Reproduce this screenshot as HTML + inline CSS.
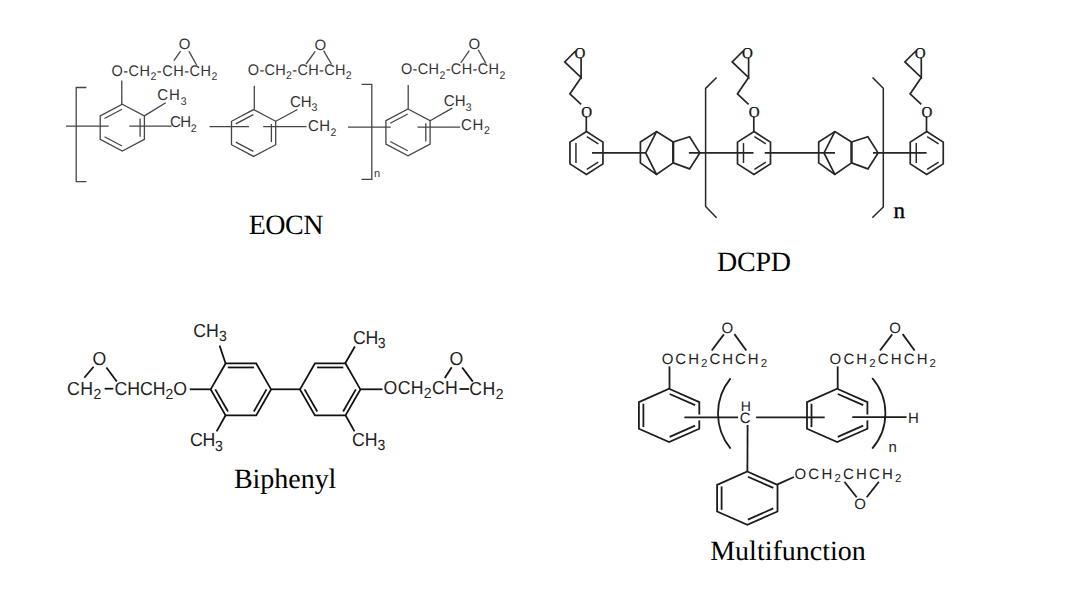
<!DOCTYPE html>
<html><head><meta charset="utf-8"><style>
html,body{margin:0;padding:0;background:#fff;}
svg{display:block;}
line,path{fill:none;stroke-linecap:butt;stroke-linejoin:miter;}
.eo line,.eo path{stroke:#454545;stroke-width:1.3;}
.dc line,.dc path{stroke:#262626;stroke-width:1.7;}
.dc line.thick{stroke-width:2.2;}
.dc line.inner{stroke-width:1.45;}
.dc path.br{stroke-width:1.5;}
.bp line,.bp path{stroke:#111;stroke-width:1.75;}
.mf line,.mf path{stroke:#1c1c1c;stroke-width:1.8;}
.mf line.gap{stroke:#fff;stroke-width:3;}
text{font-family:"Liberation Sans",sans-serif;fill:#222;text-rendering:geometricPrecision;}
.eot{font-size:14.5px;fill:#333;}
.eoO{font-size:15px;fill:#333;}
.eot2{font-size:15px;fill:#333;}
.sub{font-size:10.5px;}
.eon{font-size:11px;fill:#333;}
.cap{font-family:"Liberation Serif",serif;font-size:28px;fill:#000;}
.dco{font-family:"Liberation Serif",serif;font-size:15px;fill:#111;stroke:#111;stroke-width:0.3px;}
.dcn{font-family:"Liberation Serif",serif;font-size:23px;fill:#000;stroke:#000;stroke-width:0.35px;}
.bpt{font-size:17.7px;fill:#222;}
.bsub{font-size:14px;}
.mft{font-size:15px;letter-spacing:2px;fill:#222;}
.msub{font-size:11.5px;}
.mfh{font-size:14px;fill:#222;}
.mfc{font-size:15px;fill:#222;}
.mfO{font-size:15px;fill:#222;}
</style></head>
<body><svg width="1080" height="604" viewBox="0 0 1080 604">
<rect width="1080" height="604" fill="#fff"/>
<g class="eo">
<path d="M122.30 104.20 L144.40 115.90 L144.40 139.30 L122.30 151.00 L100.20 139.30 L100.20 115.90 Z"/>
<line x1="104.51" y1="118.48" x2="122.01" y2="109.22" class="inner"/>
<line x1="140.10" y1="118.50" x2="140.10" y2="136.70" class="inner"/>
<line x1="122.01" y1="145.98" x2="104.51" y2="136.72" class="inner"/>
<path d="M253.60 109.60 L275.70 121.30 L275.70 144.70 L253.60 156.40 L231.50 144.70 L231.50 121.30 Z"/>
<line x1="235.81" y1="123.88" x2="253.31" y2="114.62" class="inner"/>
<line x1="271.40" y1="123.90" x2="271.40" y2="142.10" class="inner"/>
<line x1="253.31" y1="151.38" x2="235.81" y2="142.12" class="inner"/>
<path d="M408.00 108.95 L430.10 120.65 L430.10 144.05 L408.00 155.75 L385.90 144.05 L385.90 120.65 Z"/>
<line x1="390.21" y1="123.23" x2="407.71" y2="113.97" class="inner"/>
<line x1="425.80" y1="123.25" x2="425.80" y2="141.45" class="inner"/>
<line x1="407.71" y1="150.73" x2="390.21" y2="141.47" class="inner"/>
<path d="M86.4 87.5 H76.2 V181.7 H86.4"/>
<path d="M361.5 84.3 H371.8 V179.3 H361.5"/>
<line x1="66.00" y1="126.20" x2="108.70" y2="126.20"/>
<line x1="129.30" y1="126.20" x2="171.60" y2="126.20"/>
<line x1="209.60" y1="126.60" x2="249.10" y2="126.60"/>
<line x1="263.20" y1="126.60" x2="306.50" y2="126.60"/>
<line x1="348.00" y1="127.20" x2="390.70" y2="127.20"/>
<line x1="417.50" y1="127.20" x2="460.20" y2="127.20"/>
<line x1="121.80" y1="104.20" x2="121.80" y2="80.50"/>
<line x1="254.30" y1="109.60" x2="254.30" y2="85.70"/>
<line x1="408.20" y1="108.80" x2="408.20" y2="84.90"/>
<line x1="144.40" y1="115.90" x2="165.70" y2="102.80"/>
<line x1="275.70" y1="121.30" x2="297.50" y2="109.50"/>
<line x1="430.10" y1="120.70" x2="452.30" y2="108.10"/>
<line x1="173.90" y1="60.60" x2="180.60" y2="51.10"/>
<line x1="188.90" y1="51.10" x2="196.70" y2="65.30"/>
<line x1="306.10" y1="64.00" x2="315.20" y2="51.40"/>
<line x1="323.60" y1="50.70" x2="331.40" y2="64.00"/>
<line x1="460.70" y1="63.00" x2="469.30" y2="50.70"/>
<line x1="478.20" y1="49.70" x2="485.90" y2="63.40"/>
</g>
<text transform="translate(157.30 99.80) scale(1 1.05)" class="eot2" textLength="29.20" lengthAdjust="spacing">CH<tspan class="sub" dy="4.5">3</tspan></text>
<text transform="translate(290.10 106.50) scale(1 1.05)" class="eot2" textLength="27.20" lengthAdjust="spacing">CH<tspan class="sub" dy="4.5">3</tspan></text>
<text transform="translate(443.80 105.80) scale(1 1.05)" class="eot2" textLength="27.80" lengthAdjust="spacing">CH<tspan class="sub" dy="4.5">3</tspan></text>
<text transform="translate(170.10 127.10) scale(1 1.05)" class="eot2" textLength="26.40" lengthAdjust="spacing">CH<tspan class="sub" dy="4.5">2</tspan></text>
<text transform="translate(308.10 131.10) scale(1 1.05)" class="eot2" textLength="28.20" lengthAdjust="spacing">CH<tspan class="sub" dy="4.5">2</tspan></text>
<text transform="translate(461.10 129.60) scale(1 1.05)" class="eot2" textLength="28.80" lengthAdjust="spacing">CH<tspan class="sub" dy="4.5">2</tspan></text>
<text transform="translate(111.40 75.60) scale(1 1.06)" class="eot" textLength="106.00" lengthAdjust="spacing">O-CH<tspan class="sub" dy="4.5">2</tspan><tspan dy="-4.5">-CH-CH</tspan><tspan class="sub" dy="4.5">2</tspan></text>
<text transform="translate(247.80 74.70) scale(1 1.06)" class="eot" textLength="103.80" lengthAdjust="spacing">O-CH<tspan class="sub" dy="4.5">2</tspan><tspan dy="-4.5">-CH-CH</tspan><tspan class="sub" dy="4.5">2</tspan></text>
<text transform="translate(400.90 73.80) scale(1 1.06)" class="eot" textLength="104.40" lengthAdjust="spacing">O-CH<tspan class="sub" dy="4.5">2</tspan><tspan dy="-4.5">-CH-CH</tspan><tspan class="sub" dy="4.5">2</tspan></text>
<text x="178.80" y="49.40" class="eoO">O</text>
<text x="314.60" y="49.60" class="eoO">O</text>
<text x="468.50" y="49.10" class="eoO">O</text>
<text x="374.10" y="177.40" class="eon">n</text>
<text x="248.70" y="234.10" class="cap" textLength="74.70" lengthAdjust="spacing">EOCN</text>
<g class="dc">
<path d="M586.45 131.55 L602.95 142.10 L602.95 163.90 L586.45 174.45 L569.95 163.90 L569.95 142.10 Z"/>
<line x1="575.95" y1="162.90" x2="575.95" y2="143.10" class="inner"/>
<line x1="586.82" y1="136.54" x2="598.27" y2="143.85" class="inner"/>
<line x1="598.27" y1="162.15" x2="586.82" y2="169.46" class="inner"/>
<path d="M754.00 131.55 L770.50 142.10 L770.50 163.90 L754.00 174.45 L737.50 163.90 L737.50 142.10 Z"/>
<line x1="743.50" y1="162.90" x2="743.50" y2="143.10" class="inner"/>
<line x1="754.37" y1="136.54" x2="765.82" y2="143.85" class="inner"/>
<line x1="765.82" y1="162.15" x2="754.37" y2="169.46" class="inner"/>
<path d="M926.75 131.55 L943.25 142.10 L943.25 163.90 L926.75 174.45 L910.25 163.90 L910.25 142.10 Z"/>
<line x1="916.25" y1="162.90" x2="916.25" y2="143.10" class="inner"/>
<line x1="927.12" y1="136.54" x2="938.57" y2="143.85" class="inner"/>
<line x1="938.57" y1="162.15" x2="927.12" y2="169.46" class="inner"/>
<path d="M656.50 131.60 L640.40 142.00 L640.40 162.90 L656.50 174.40 L673.20 162.90 L673.20 142.00 Z"/>
<path d="M656.50 131.60 L645.70 152.90 L656.50 174.40"/>
<line x1="673.20" y1="142.30" x2="673.20" y2="162.60" class="thick"/>
<path d="M673.20 142.00 L689.60 136.80 L699.80 152.90 L689.60 168.90 L673.20 162.90"/>
<path d="M834.80 131.60 L818.70 142.00 L818.70 162.90 L834.80 174.40 L851.50 162.90 L851.50 142.00 Z"/>
<path d="M834.80 131.60 L824.00 152.90 L834.80 174.40"/>
<line x1="851.50" y1="142.30" x2="851.50" y2="162.60" class="thick"/>
<path d="M851.50 142.00 L867.90 136.80 L878.10 152.90 L867.90 168.90 L851.50 162.90"/>
<line x1="592.00" y1="152.90" x2="645.70" y2="152.90"/>
<line x1="688.90" y1="152.90" x2="753.50" y2="152.90"/>
<line x1="764.70" y1="152.90" x2="835.00" y2="152.90"/>
<line x1="873.00" y1="152.90" x2="926.60" y2="152.90"/>
<path d="M716.6 77.5 L705.6 88.4 V206.5 L716.6 217.7" class="br"/>
<path d="M872.5 77.5 L883.3 88.2 V207 L872.3 217.7" class="br"/>
<path d="M575.60 51.00 L564.70 61.90 L581.10 77.50 L581.10 57.60"/>
<path d="M581.10 77.50 L569.90 93.90 L581.10 104.30"/>
<line x1="586.30" y1="116.50" x2="586.30" y2="131.60"/>
<path d="M743.10 51.00 L732.20 61.90 L748.60 77.50 L748.60 57.60"/>
<path d="M748.60 77.50 L737.40 93.90 L748.60 104.30"/>
<line x1="753.80" y1="116.50" x2="753.80" y2="131.60"/>
<path d="M915.80 51.00 L904.90 61.90 L921.30 77.50 L921.30 57.60"/>
<path d="M921.30 77.50 L910.10 93.90 L921.30 104.30"/>
<line x1="926.50" y1="116.50" x2="926.50" y2="131.60"/>
</g>
<text x="574.60" y="58.40" class="dco">O</text>
<text x="581.20" y="116.90" class="dco">O</text>
<text x="742.10" y="58.40" class="dco">O</text>
<text x="748.70" y="116.90" class="dco">O</text>
<text x="914.80" y="58.40" class="dco">O</text>
<text x="921.40" y="116.90" class="dco">O</text>
<text x="893.50" y="217.50" class="dcn">n</text>
<text x="716.90" y="270.80" class="cap" textLength="74.20" lengthAdjust="spacing">DCPD</text>
<g class="bp">
<path d="M210.70 389.40 L225.60 363.45 L256.20 363.45 L271.10 389.40 L256.20 415.35 L225.60 415.35 Z"/>
<line x1="227.80" y1="367.45" x2="254.00" y2="367.45" class="inner"/>
<line x1="266.54" y1="389.32" x2="253.83" y2="411.45" class="inner"/>
<line x1="227.97" y1="411.45" x2="215.26" y2="389.32" class="inner"/>
<path d="M300.00 389.40 L314.90 363.45 L345.50 363.45 L360.40 389.40 L345.50 415.35 L314.90 415.35 Z"/>
<line x1="317.10" y1="367.45" x2="343.30" y2="367.45" class="inner"/>
<line x1="355.84" y1="389.32" x2="343.13" y2="411.45" class="inner"/>
<line x1="317.27" y1="411.45" x2="304.56" y2="389.32" class="inner"/>
<line x1="271.10" y1="389.30" x2="300.00" y2="389.30"/>
<line x1="189.80" y1="389.30" x2="210.70" y2="389.30"/>
<line x1="360.40" y1="389.30" x2="382.50" y2="389.30"/>
<line x1="225.60" y1="363.50" x2="219.60" y2="345.60"/>
<line x1="225.60" y1="415.30" x2="216.60" y2="431.40"/>
<line x1="345.10" y1="363.50" x2="354.90" y2="346.50"/>
<line x1="345.50" y1="415.30" x2="354.50" y2="431.40"/>
<line x1="104.60" y1="388.70" x2="113.30" y2="388.70"/>
<line x1="459.50" y1="389.00" x2="469.10" y2="389.00"/>
<line x1="84.30" y1="377.70" x2="93.60" y2="366.70"/>
<line x1="106.40" y1="367.50" x2="116.80" y2="381.50"/>
<line x1="444.80" y1="377.90" x2="451.70" y2="367.30"/>
<line x1="462.20" y1="367.50" x2="472.80" y2="381.60"/>
</g>
<text transform="translate(193.20 337.10) scale(1 1.06)" class="bpt" textLength="33.60" lengthAdjust="spacing">CH<tspan class="bsub" dy="4">3</tspan></text>
<text transform="translate(190.10 446.30) scale(1 1.06)" class="bpt" textLength="32.60" lengthAdjust="spacing">CH<tspan class="bsub" dy="4">3</tspan></text>
<text transform="translate(353.00 343.90) scale(1 1.06)" class="bpt" textLength="32.60" lengthAdjust="spacing">CH<tspan class="bsub" dy="4">3</tspan></text>
<text transform="translate(351.90 445.60) scale(1 1.06)" class="bpt" textLength="33.40" lengthAdjust="spacing">CH<tspan class="bsub" dy="4">3</tspan></text>
<text transform="translate(67.00 394.50) scale(1 1.06)" class="bpt" textLength="34.40" lengthAdjust="spacing">CH<tspan class="bsub" dy="4">2</tspan></text>
<text transform="translate(114.60 394.50) scale(1 1.06)" class="bpt" textLength="72.40" lengthAdjust="spacing">CHCH<tspan class="bsub" dy="4">2</tspan><tspan dy="-4">O</tspan></text>
<text transform="translate(383.60 394.10) scale(1 1.06)" class="bpt" textLength="74.20" lengthAdjust="spacing">OCH<tspan class="bsub" dy="4">2</tspan><tspan dy="-4">CH</tspan></text>
<text transform="translate(469.20 394.60) scale(1 1.06)" class="bpt" textLength="34.40" lengthAdjust="spacing">CH<tspan class="bsub" dy="4">2</tspan></text>
<text transform="translate(92.60 364.90) scale(1 1.06)" class="bpt">O</text>
<text transform="translate(449.40 364.80) scale(1 1.06)" class="bpt">O</text>
<text x="233.90" y="488.30" class="cap" textLength="102.50" lengthAdjust="spacing">Biphenyl</text>
<g class="mf">
<path d="M669.10 388.80 L699.30 402.10 L699.30 428.70 L669.10 442.00 L638.90 428.70 L638.90 402.10 Z"/>
<line x1="669.67" y1="393.97" x2="695.11" y2="405.17" class="inner"/>
<line x1="643.40" y1="427.10" x2="643.40" y2="403.70" class="inner"/>
<line x1="695.11" y1="425.63" x2="669.67" y2="436.83" class="inner"/>
<path d="M837.20 388.80 L867.40 402.10 L867.40 428.70 L837.20 442.00 L807.00 428.70 L807.00 402.10 Z"/>
<line x1="837.77" y1="393.97" x2="863.21" y2="405.17" class="inner"/>
<line x1="811.50" y1="427.10" x2="811.50" y2="403.70" class="inner"/>
<line x1="863.21" y1="425.63" x2="837.77" y2="436.83" class="inner"/>
<path d="M747.30 471.55 L777.50 484.85 L777.50 511.45 L747.30 524.75 L717.10 511.45 L717.10 484.85 Z"/>
<line x1="747.87" y1="476.72" x2="773.31" y2="487.92" class="inner"/>
<line x1="721.60" y1="509.85" x2="721.60" y2="486.45" class="inner"/>
<line x1="773.31" y1="508.38" x2="747.87" y2="519.58" class="inner"/>
<line x1="699.30" y1="414.60" x2="699.30" y2="420.40" class="gap"/>
<line x1="867.40" y1="414.60" x2="867.40" y2="420.40" class="gap"/>
<line x1="669.50" y1="366.40" x2="669.50" y2="388.90"/>
<line x1="837.70" y1="366.40" x2="837.70" y2="388.90"/>
<line x1="684.40" y1="417.30" x2="738.10" y2="417.30"/>
<line x1="756.10" y1="417.30" x2="824.70" y2="417.30"/>
<line x1="852.30" y1="417.20" x2="906.60" y2="417.20"/>
<line x1="747.60" y1="425.00" x2="747.40" y2="471.30"/>
<line x1="777.50" y1="484.40" x2="793.90" y2="477.00"/>
<path d="M730.6 378.4 A55.2 55.2 0 0 0 730.6 448.6"/>
<path d="M872.2 378.0 A54 54 0 0 1 872.2 448.7"/>
<line x1="711.70" y1="350.50" x2="723.90" y2="334.40"/>
<line x1="734.40" y1="334.10" x2="746.30" y2="350.50"/>
<line x1="880.00" y1="350.50" x2="892.20" y2="334.40"/>
<line x1="902.70" y1="334.10" x2="914.60" y2="350.50"/>
<line x1="844.40" y1="481.70" x2="856.70" y2="497.20"/>
<line x1="866.70" y1="497.20" x2="878.90" y2="481.70"/>
</g>
<text x="661.70" y="363.90" class="mft" textLength="107.40" lengthAdjust="spacing">OCH<tspan class="msub" dy="3">2</tspan><tspan dy="-3">CHCH</tspan><tspan class="msub" dy="3">2</tspan></text>
<text x="829.60" y="363.90" class="mft" textLength="108.40" lengthAdjust="spacing">OCH<tspan class="msub" dy="3">2</tspan><tspan dy="-3">CHCH</tspan><tspan class="msub" dy="3">2</tspan></text>
<text x="794.50" y="478.70" class="mft" textLength="109.00" lengthAdjust="spacing">OCH<tspan class="msub" dy="3">2</tspan><tspan dy="-3">CHCH</tspan><tspan class="msub" dy="3">2</tspan></text>
<text x="721.50" y="333.40" class="mfO">O</text>
<text x="889.20" y="333.40" class="mfO">O</text>
<text x="854.20" y="509.40" class="mfc">O</text>
<text x="740.70" y="411.20" class="mfh">H</text>
<text x="739.80" y="423.20" class="mfc">C</text>
<text x="908.10" y="423.00" class="mfc">H</text>
<text x="888.60" y="451.70" class="mfc">n</text>
<text x="710.20" y="560.00" class="cap" textLength="155.60" lengthAdjust="spacing">Multifunction</text>
</svg></body></html>
